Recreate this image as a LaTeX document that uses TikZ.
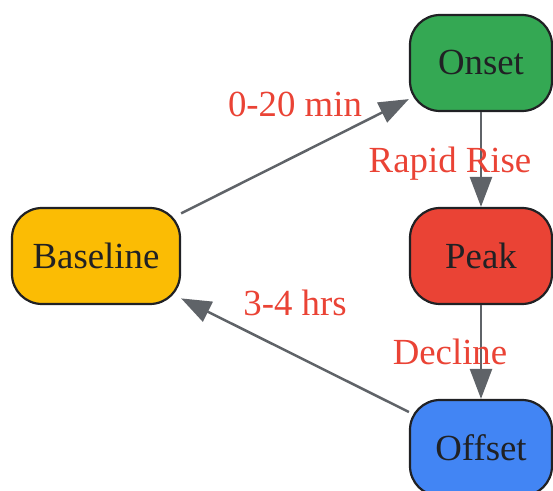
\documentclass[tikz,border=0pt]{standalone}
\usepackage{fontspec}
\setmainfont{Liberation Serif}
\usetikzlibrary{arrows.meta}
\definecolor{phyellow}{HTML}{FBBC04}
\definecolor{phgreen}{HTML}{34A853}
\definecolor{phred}{HTML}{EA4335}
\definecolor{phblue}{HTML}{4285F4}
\definecolor{phgray}{HTML}{5F6368}
\definecolor{phink}{HTML}{202124}

\begin{document}
\begin{tikzpicture}[x=0.5pt, y=-0.5pt,
    font=\fontsize{18.4}{22}\selectfont,
    phase/.style={draw=phink, line width=1.1pt, rounded corners=15pt, text=phink,
        minimum width=71pt, minimum height=48pt, inner sep=0pt},
    lbl/.style={text=phred, inner sep=0pt},
    every edge/.style={draw=phgray, line width=1.25pt, -{Triangle[length=15pt, width=11pt]}}]
    \useasboundingbox (0,0) rectangle (553,491);

    \node[phase, fill=phyellow, minimum width=84pt] at (96, 256)(baseline){Baseline};
    \node[phase, fill=phgreen] at (481, 63)(onset){Onset};
    \node[phase, fill=phred] at (481, 256)(peak){Peak};
    \node[phase, fill=phblue] at (481, 448)(offset){Offset};

    \path
    (baseline)edge node[lbl, yshift=26pt]{0-20 min}(onset)
    (onset)edge node[lbl, xshift=-15.5pt, yshift=-2pt]{Rapid Rise}(peak)
    (peak)edge node[lbl, xshift=-15.5pt]{Decline}(offset)
    (offset)edge node[lbl, yshift=26pt]{3-4 hrs}(baseline)
    ;
\end{tikzpicture}
\end{document}
